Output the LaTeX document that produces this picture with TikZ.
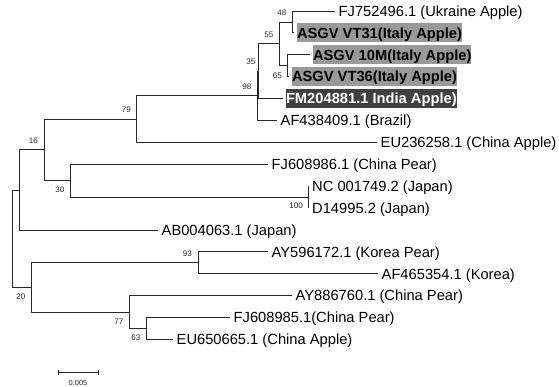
\documentclass[tikz,border=0pt]{standalone}
\usepackage{fontspec}
\setmainfont{Liberation Sans}
\begin{document}
\begin{tikzpicture}[x=1pt,y=-1pt,
  branch/.style={draw=black!85,line width=0.9pt},
  leaf/.style={anchor=west,inner xsep=3.5pt,inner ysep=0pt,text height=10.5pt,text depth=0pt,font=\fontsize{14.7}{17}\selectfont},
  hl/.style={anchor=west,inner xsep=0pt,inner ysep=4.25pt,outer xsep=3.5pt,outer ysep=0pt,text height=10.5pt,text depth=0pt,font=\fontsize{14.7}{17}\selectfont\bfseries,fill=black!40},
  hldark/.style={hl,fill=black!75,text=white},
  boot/.style={anchor=east,inner sep=0pt,font=\fontsize{8}{9}\selectfont,text=black!85},
  scalelbl/.style={inner sep=0pt,font=\fontsize{7.5}{8}\selectfont,text=black!85}]
\useasboundingbox (0,0) rectangle (559,386);

% internal nodes
\coordinate (root) at (12,238.7);
\coordinate (nA) at (19,190);
\coordinate (n16) at (44,149.9);
\coordinate (n79) at (136.5,119.1);
\coordinate (n98) at (257,95.9);
\coordinate (n35) at (258.5,71.2);
\coordinate (n55) at (279,43.9);
\coordinate (n48) at (292,22);
\coordinate (n65) at (287.5,65.75);
\coordinate (n30) at (70,180.7);
\coordinate (n100) at (308.5,197.1);
\coordinate (n20) at (31,287.5);
\coordinate (n93) at (198,262.9);
\coordinate (n77) at (129.5,312.1);
\coordinate (n63) at (146.5,328.5);

% leaves
\node[leaf] (l1) at (335,11) {FJ752496.1 (Ukraine Apple)};
\node[hl] (l2) at (293.5,32.9) {ASGV VT31(Italy Apple)};
\node[hl] (l3) at (309.5,54.8) {ASGV 10M(Italy Apple)};
\node[hl] (l4) at (288.5,76.7) {ASGV VT36(Italy Apple)};
\node[hldark] (l5) at (282.5,98.6) {FM204881.1 India Apple)};
\node[leaf] (l6) at (277,120.5) {AF438409.1 (Brazil)};
\node[leaf] (l7) at (377,142.4) {EU236258.1 (China Apple)};
\node[leaf] (l8) at (268,164.3) {FJ608986.1 (China Pear)};
\node[leaf] (l9) at (308.5,186.2) {NC 001749.2 (Japan)};
\node[leaf] (l10) at (308.5,208.1) {D14995.2 (Japan)};
\node[leaf] (l11) at (158,230) {AB004063.1 (Japan)};
\node[leaf] (l12) at (268,251.9) {AY596172.1 (Korea Pear)};
\node[leaf] (l13) at (378,273.8) {AF465354.1 (Korea)};
\node[leaf] (l14) at (292,295.7) {AY886760.1 (China Pear)};
\node[leaf] (l15) at (230,317.6) {FJ608985.1(China Pear)};
\node[leaf] (l16) at (173,339.5) {EU650665.1 (China Apple)};

% branches
\draw[branch] (root) |- (nA);  \draw[branch] (root) |- (n20);
\draw[branch] (nA) |- (n16);   \draw[branch] (nA) |- (l11.west);
\draw[branch] (n16) |- (n79);  \draw[branch] (n16) |- (n30);
\draw[branch] (n79) |- (n98);  \draw[branch] (n79) |- (l7.west);
\draw[branch] (n98) |- (n35);  \draw[branch] (n98) |- (l6.west);
\draw[branch] (n35) |- (n55);  \draw[branch] (n35) |- (l5.west);
\draw[branch] (n55) |- (n48);  \draw[branch] (n55) |- (n65);
\draw[branch] (n48) |- (l1.west); \draw[branch] (n48) |- (l2.west);
\draw[branch] (n65) |- (l3.west); \draw[branch] (n65) |- (l4.west);
\draw[branch] (n30) |- (l8.west); \draw[branch] (n30) |- (n100);
\draw[branch] (n100) |- (l9.west); \draw[branch] (n100) |- (l10.west);
\draw[branch] (n20) |- (n93);  \draw[branch] (n20) |- (n77);
\draw[branch] (n93) |- (l12.west); \draw[branch] (n93) |- (l13.west);
\draw[branch] (n77) |- (l14.west); \draw[branch] (n77) |- (n63);
\draw[branch] (n63) |- (l15.west); \draw[branch] (n63) |- (l16.west);

% bootstrap values
\path (n48) ++(-5.5,-9) node[boot] (b48) {48};
\path (n55) ++(-5.5,-9.5) node[boot] (b55) {55};
\path (n65) ++(-5.5,9.5) node[boot] (b65) {65};
\path (n35) ++(-3,-9) node[boot] (b35) {35};
\path (n98) ++(-5.5,-9) node[boot] (b98) {98};
\path (n79) ++(-5.5,-9) node[boot] (b79) {79};
\path (n16) ++(-6,-9) node[boot] (b16) {16};
\path (n30) ++(-5.5,9.5) node[boot] (b30) {30};
\path (n100) ++(-5.5,9) node[boot] (b100) {100};
\path (n93) ++(-6,-9) node[boot] (b93) {93};
\path (n20) ++(-5.5,9.5) node[boot] (b20) {20};
\path (n77) ++(-6,10) node[boot] (b77) {77};
\path (n63) ++(-6,9.5) node[boot] (b63) {63};

% scale bar
\coordinate (s1) at (58,372);
\coordinate (s2) at (98,372);
\draw[branch] (s1) -- (s2);
\draw[branch] ([yshift=-2.5pt]s1) -- ([yshift=2.5pt]s1);
\draw[branch] ([yshift=-2.5pt]s2) -- ([yshift=2.5pt]s2);
\node[scalelbl] (slbl) at (78,382.5) {0.005};
\end{tikzpicture}
\end{document}
